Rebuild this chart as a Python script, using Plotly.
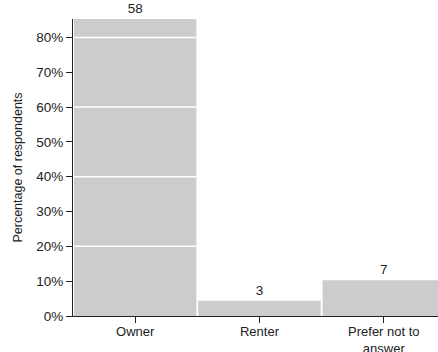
import plotly.graph_objects as go

categories = ["Owner", "Renter", "Prefer not to<br>answer"]
counts = [58, 3, 7]
total = sum(counts)
percentages = [c / total * 100 for c in counts]
y_ticks = [0, 10, 20, 30, 40, 50, 60, 70, 80]
y_tick_labels = [f"{t}%" for t in y_ticks]
grid_values = [20, 40, 60, 80]

text_color = "#222222"
font_family = "Liberation Sans, Arial, sans-serif"

fig = go.Figure(
    go.Bar(
        x=categories,
        y=percentages,
        text=[str(c) for c in counts],
        textposition="outside",
        cliponaxis=False,
        marker=dict(color="#cccccc", line=dict(width=0)),
        textfont=dict(size=13.5, color=text_color, family=font_family),
        hoverinfo="skip",
    )
)

for g in grid_values:
    fig.add_shape(
        type="line", xref="paper", x0=0, x1=1, yref="y", y0=g, y1=g,
        line=dict(color="white", width=1.5), layer="above",
    )

fig.update_layout(
    width=438,
    height=352,
    margin=dict(l=73, r=0, t=19, b=36),
    paper_bgcolor="white",
    plot_bgcolor="white",
    bargap=0.015,
    showlegend=False,
    font=dict(family=font_family, size=13.5, color=text_color),
)
fig.update_xaxes(
    range=[-0.5, 2.436],
    automargin=False,
    showline=True, linecolor=text_color, linewidth=1,
    ticks="outside", ticklen=6, tickcolor=text_color,
    ticklabelstandoff=-3,
    showgrid=False,
    tickfont=dict(size=13, color=text_color, family=font_family),
)
fig.update_yaxes(
    range=[0, max(percentages)],
    automargin=False,
    tickvals=y_ticks, ticktext=y_tick_labels,
    showline=True, linecolor=text_color, linewidth=1,
    ticks="outside", ticklen=6, tickcolor=text_color,
    showgrid=False, zeroline=False,
    title=dict(text="Percentage of respondents",
               font=dict(size=12.5, color=text_color, family=font_family), standoff=10),
    tickfont=dict(size=13.5, color=text_color, family=font_family),
)

fig.write_html(
    "out.html",
    config={"displayModeBar": False, "staticPlot": True},
    post_script="document.body.style.margin='0';document.body.style.overflow='hidden';",
)
